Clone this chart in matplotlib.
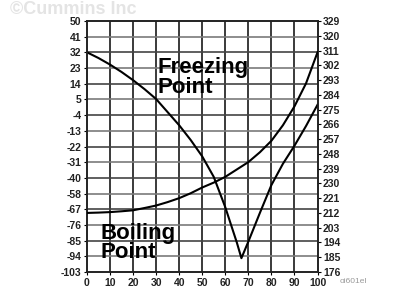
import matplotlib.pyplot as plt
import numpy as np

plt.rcParams['font.family'] = ['Liberation Sans', 'DejaVu Sans']

# percent glycol
conc_freeze = [0, 5, 10, 15, 20, 25, 30, 35, 40, 45, 50, 55, 60, 65, 67,
               70, 75, 80, 85, 90, 95, 100]
# freezing point, in left-axis units
freeze = [31, 27.5, 23.5, 19, 14, 8.5, 2.5, -5.5, -13.5, -22.5, -32.5, -45,
          -63.5, -85, -94.6, -84.5, -67, -50, -37, -26, -14, -1]

conc_boil = [0, 5, 10, 15, 20, 25, 30, 35, 40, 45, 50, 55, 60, 65, 70, 75,
             80, 85, 90, 95, 100]
# boiling point, deg F (right axis)
boil = [212, 212.2, 212.5, 213, 213.6, 215, 216.5, 218.6, 221, 224, 227.5,
        230.5, 234, 238.5, 243, 249, 256, 265.5, 277, 291, 310]

left_labels = ['50', '41', '32', '23', '14', '5', '-4', '-13', '-22', '-31',
               '-40', '-58', '-67', '-76', '-85', '-94', '-103']
right_ticks = list(range(176, 330, 9))
x_ticks = list(range(0, 101, 10))

fig = plt.figure(figsize=(4.04, 2.89), dpi=100)
fig.text(0.025, 0.997, '\u00a9Cummins Inc', fontsize=13, fontweight='bold',
         color='#e4e4e4', va='top', zorder=0)
ax = fig.add_axes([0.215, 0.059, 0.571, 0.868])
ax.patch.set_alpha(0)

ax.set_xlim(0, 100)
ax.set_ylim(-103, 50)
left_pos = np.linspace(50, -103, len(left_labels))
ax.set_yticks(left_pos)
ax.set_yticklabels(left_labels)
ax.set_xticks(x_ticks)

for x in x_ticks[1:-1]:
    ax.axvline(x, color='#3a3a3a', lw=1.4, zorder=1)
for i, y in enumerate(left_pos[1:-1]):
    ax.axhline(y, color='#444444' if i % 2 else '#7a7a7a', lw=1.2, zorder=1)

ax.plot(conc_freeze, freeze, color='black', lw=1.5, zorder=3)

ax2 = ax.twinx()
ax2.set_ylim(176, 329)
ax2.set_yticks(right_ticks)
ax2.plot(conc_boil, boil, color='black', lw=1.5, zorder=3)

for a in (ax, ax2):
    for s in a.spines.values():
        s.set_linewidth(1.2)
        s.set_color('#222222')
    a.tick_params(length=2, width=0.8, labelsize=7.5, pad=2)
    for lab in a.get_xticklabels() + a.get_yticklabels():
        lab.set_fontweight('bold')
        lab.set_color('#222222')

ax.text(30.5, 28, 'Freezing\nPoint', fontsize=16, fontweight='bold',
        linespacing=0.9, va='top', ha='left')
ax.text(5.8, -73, 'Boiling\nPoint', fontsize=16, fontweight='bold',
        linespacing=0.9, va='top', ha='left')

fig.text(0.84, 0.02, 'oi601el', fontsize=6, color='#999999')

fig.savefig('out.png', dpi=100)
